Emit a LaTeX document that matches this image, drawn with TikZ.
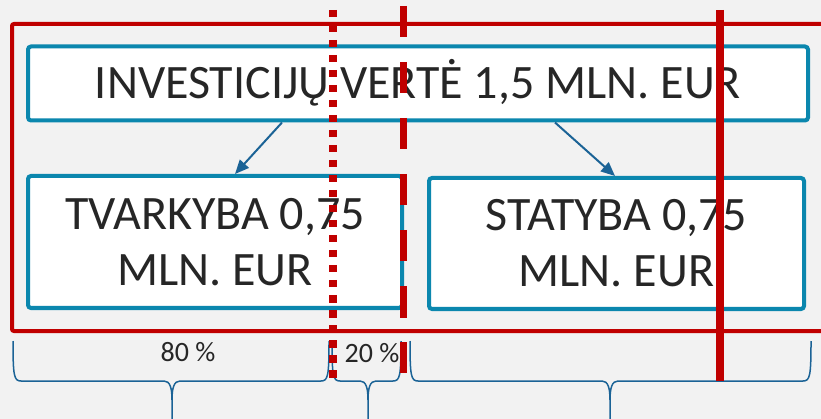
\documentclass[tikz,border=0pt]{standalone}
\usepackage{fontspec}
\setmainfont{Carlito}
\usetikzlibrary{arrows.meta}
\definecolor{bg}{HTML}{F2F2F2}
\definecolor{boxc}{HTML}{0B87AE}
\definecolor{redc}{HTML}{C00000}
\definecolor{arrc}{HTML}{1B6396}
\definecolor{txtc}{HTML}{262626}
\newcommand{\mybrace}[3]{%
  \draw[bracestyle] (#1,341) .. controls (#1,376) and ({#1+1},381) .. ({#1+8},381)
     -- ({#2-8},381) .. controls ({#2-2},381) and (#2,388) .. (#2,400) -- (#2,425);
  \draw[bracestyle] (#2,400) .. controls (#2,388) and ({#2+2},381) .. ({#2+8},381)
     -- ({#3-8},381) .. controls ({#3-1},381) and (#3,376) .. (#3,341);}
\tikzset{
  infobox/.style={draw=boxc, fill=white, line width=4pt, rounded corners=3pt,
    inner sep=0pt, text=txtc, font=\fontsize{48}{56}\selectfont, align=center},
  arr/.style={draw=arrc, line width=2pt, -{Triangle[length=14pt,width=12pt]}},
  bracestyle/.style={draw=arrc, line width=1.5pt},
  pct/.style={text=txtc, font=\fontsize{28}{32}\selectfont, anchor=base, inner sep=0pt},
  redline/.style={draw=redc, line width=7.5pt},
}
\begin{document}
\begin{tikzpicture}[x=1pt,y=-1pt]
\fill[bg] (0,0) rectangle (821,419);
\useasboundingbox (0,0) rectangle (821,419);
\begin{scope}
\clip (0,0) rectangle (821,419);
% red frame
\draw[draw=redc, line width=4pt, rounded corners=2pt] (12,24) rectangle (840,331);
% boxes
\node[infobox, minimum width=780pt, minimum height=74pt, text height=31pt, text depth=0pt] (top) at (418,83.5)
  {INVESTICIJŲ VERTĖ 1,5 MLN. EUR};
\node[infobox, minimum width=374pt, minimum height=132pt] (left) at (215,242)
  {TVARKYBA 0,75\\MLN. EUR};
\node[infobox, minimum width=375pt, minimum height=131pt] (right) at (616.5,243.5)
  {STATYBA 0,75\\MLN. EUR};
% arrows
\draw[arr] (top.south -| 282,0) -- (left.north -| 235,0);
\draw[arr] (top.south -| 555,0) -- (right.north -| 615,0);
% braces
\mybrace{13}{172}{329}
\mybrace{332}{368}{401}
\mybrace{410}{610}{811}
\node[pct] (p80) at (188,361) {80 \%};
\node[pct] (p20) at (372,362) {20 \%};
% red vertical lines
\coordinate (d1) at (333,10); \coordinate (d2) at (333,381);
\coordinate (e1) at (403.5,6); \coordinate (e2) at (403.5,373);
\coordinate (s1) at (720,10); \coordinate (s2) at (720,381);
\draw[redline, dash pattern=on 7.5pt off 7.5pt] (d1) -- (d2);
\draw[redline, dash pattern=on 31.5pt off 24.5pt] (e1) -- (e2);
\draw[redline, line width=8pt] (s1) -- (s2);
\end{scope}
\end{tikzpicture}
\end{document}
